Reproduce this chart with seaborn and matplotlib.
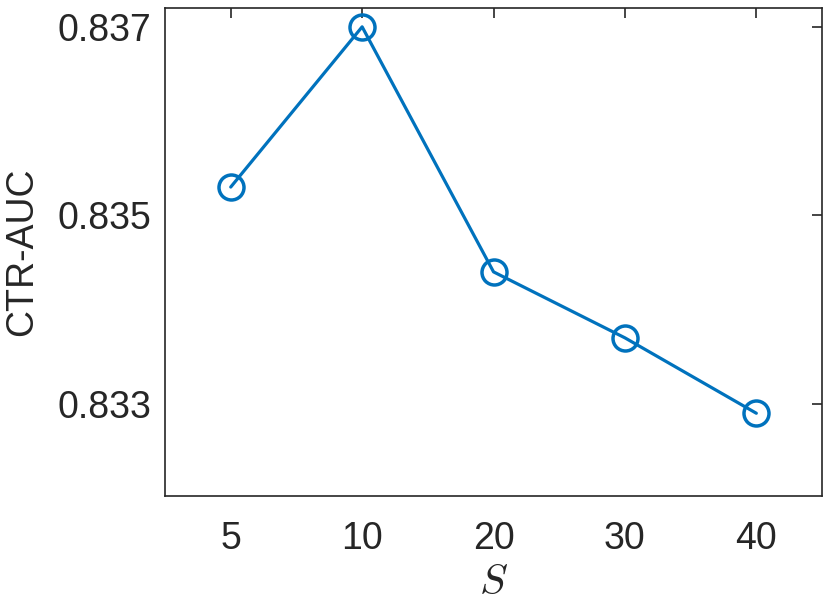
import matplotlib
matplotlib.use("Agg")
import pandas as pd
import seaborn as sns
import matplotlib.pyplot as plt

# valores
s_labels = ["5", "10", "20", "30", "40"]
ctr_auc = [0.8353, 0.8370, 0.8344, 0.8337, 0.8329]
y_ticks = [0.833, 0.835, 0.837]

AZUL = "#0072BD"
CINZA = "#262626"

sns.set_theme(style="white")
plt.rcParams["font.family"] = ["Liberation Sans", "DejaVu Sans"]
plt.rcParams["mathtext.fontset"] = "cm"

df = pd.DataFrame({"S": s_labels, "auc": ctr_auc})
df["pos"] = range(len(df))

fig = plt.figure(figsize=(8.31, 6.04), dpi=100)
ax = fig.add_axes([0.1986, 0.1785, 0.7906, 0.8083])

sns.lineplot(data=df, x="pos", y="auc", ax=ax, color=AZUL, linewidth=2.3,
             marker="o", markersize=18, markerfacecolor="none",
             markeredgecolor=AZUL, markeredgewidth=2.5)

ax.set_xlim(-0.5, 4.5)
ax.set_ylim(0.83202, 0.8372)
ax.set_xticks(df["pos"])
ax.set_xticklabels(s_labels)
ax.set_yticks(y_ticks)
ax.set_yticklabels([f"{v:.3f}" for v in y_ticks])

ax.tick_params(direction="in", length=7, width=1.2, colors=CINZA,
               labelsize=27, top=True, right=True)
ax.tick_params(axis="x", pad=18)
ax.tick_params(axis="y", pad=10)
for sp in ax.spines.values():
    sp.set_color(CINZA)
    sp.set_linewidth(1.2)

ax.set_xlabel("$S$", fontsize=30, color=CINZA, labelpad=4)
ax.set_ylabel("CTR-AUC", fontsize=27, color=CINZA, labelpad=12)

fig.savefig("out.png", dpi=100)
plt.close(fig)
